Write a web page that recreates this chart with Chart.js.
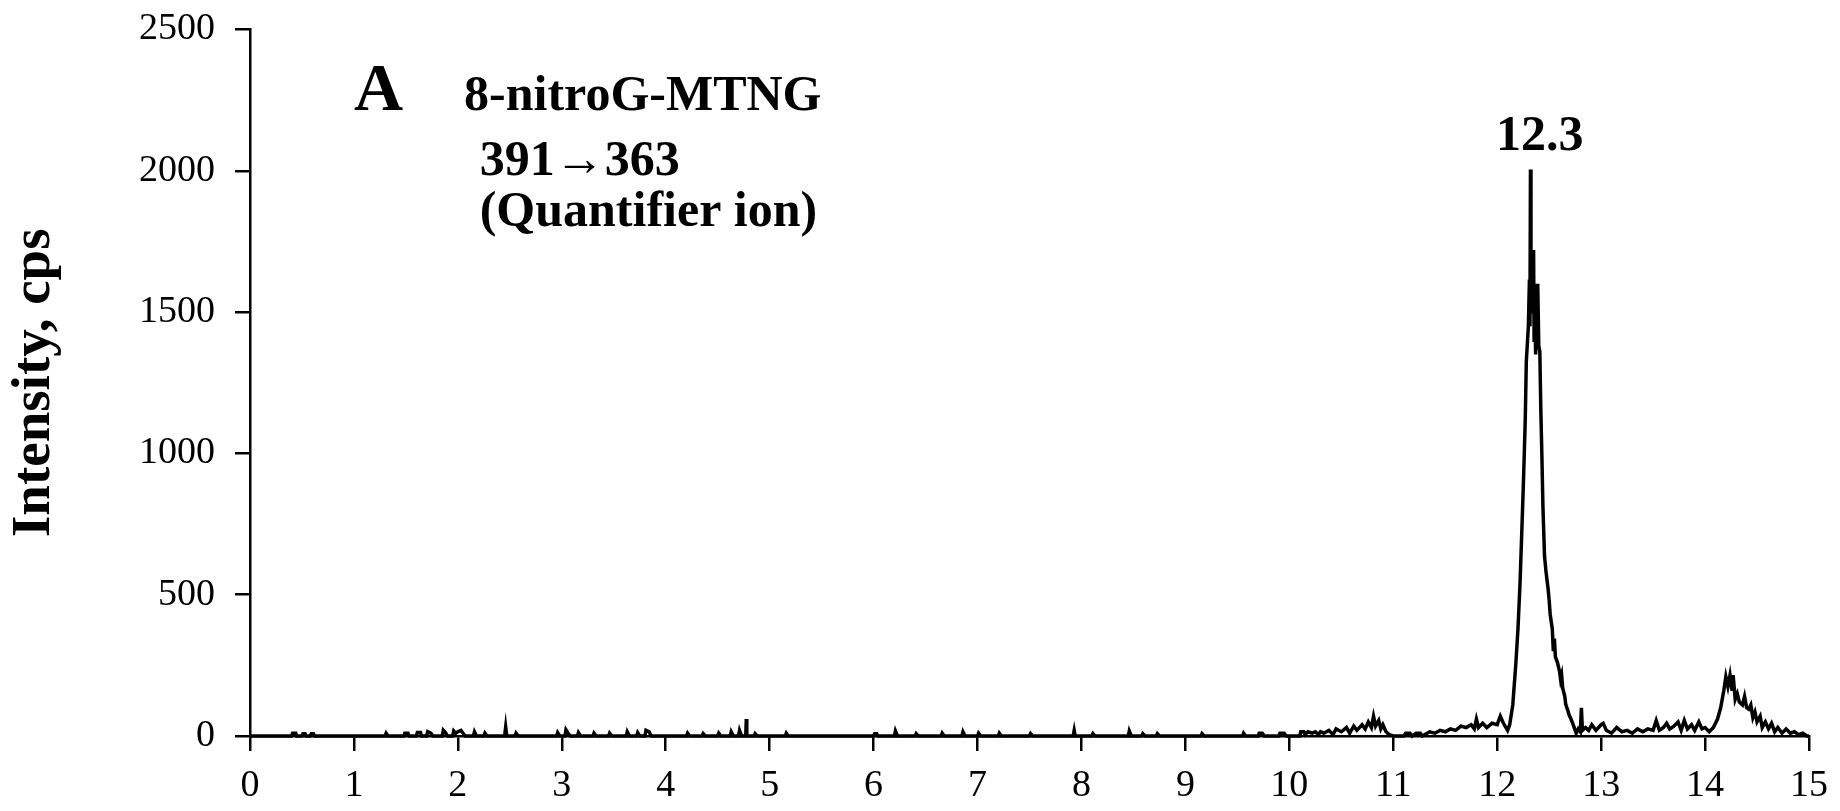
<!DOCTYPE html>
<html>
<head>
<meta charset="utf-8">
<script src="https://cdn.jsdelivr.net/npm/chart.js@4/dist/chart.umd.min.js"></script>
<style>
  body { margin: 0; background: #fff; }
  #wrap { width: 1840px; height: 811px; }
</style>
</head>
<body>
<div id="wrap"><canvas id="chart_xic" width="1840" height="811"></canvas></div>
<script>
// retention time (min) and intensity (cps)
const rt = [
  0.00, 0.40, 0.41, 0.44, 0.45, 0.50, 0.51, 0.53, 0.54, 0.58, 0.59, 0.61, 0.62,
  1.30, 1.31, 1.33, 1.48, 1.49, 1.52, 1.53, 1.60, 1.61, 1.64, 1.65, 1.70, 1.71, 1.74, 1.76,
  1.85, 1.86, 1.88, 1.90, 1.95, 1.96, 1.98, 2.00, 2.03, 2.05, 2.07, 2.15, 2.16, 2.18,
  2.25, 2.26, 2.28, 2.45, 2.46, 2.47, 2.55, 2.56, 2.58, 2.95, 2.96, 2.98, 3.03, 3.04, 3.06, 3.08,
  3.15, 3.16, 3.18, 3.30, 3.31, 3.33, 3.45, 3.46, 3.48, 3.62, 3.63, 3.65, 3.72, 3.73, 3.75,
  3.80, 3.81, 3.84, 3.86, 4.20, 4.21, 4.23, 4.35, 4.36, 4.38, 4.50, 4.51, 4.53, 4.62, 4.63, 4.65,
  4.70, 4.71, 4.73, 4.77, 4.775, 4.78, 4.85, 4.86, 4.88, 5.15, 5.16, 5.18,
  6.00, 6.01, 6.03, 6.04, 6.20, 6.21, 6.23, 6.40, 6.41, 6.43, 6.65, 6.66, 6.68, 6.85, 6.86, 6.88,
  7.00, 7.01, 7.03, 7.20, 7.21, 7.23, 7.50, 7.51, 7.53, 7.92, 7.93, 7.94, 8.10, 8.11, 8.13,
  8.45, 8.46, 8.48, 8.58, 8.59, 8.61, 8.72, 8.73, 8.75, 9.15, 9.16, 9.18, 9.55, 9.56, 9.58,
  9.70, 9.71, 9.74, 9.76, 9.90, 9.91, 9.95, 9.97,
  10.10, 10.11, 10.14, 10.15, 10.18, 10.22, 10.25, 10.28, 10.30, 10.33, 10.38, 10.42, 10.45,
  10.50, 10.55, 10.58, 10.62, 10.65, 10.70, 10.73, 10.76, 10.79, 10.81, 10.83, 10.86, 10.88,
  10.90, 10.93, 10.96, 11.00, 11.10, 11.12, 11.16, 11.18, 11.22, 11.26, 11.28, 11.35, 11.40,
  11.45, 11.50, 11.55, 11.60, 11.65, 11.70, 11.75, 11.78, 11.80, 11.82, 11.86, 11.90, 11.95,
  12.00, 12.03, 12.06, 12.10, 12.12, 12.15, 12.18, 12.20, 12.22, 12.24, 12.25, 12.26, 12.27,
  12.28, 12.30, 12.31, 12.315, 12.32, 12.325, 12.33, 12.34, 12.345, 12.35, 12.355, 12.36, 12.37,
  12.375, 12.38, 12.39, 12.40, 12.41, 12.42, 12.43, 12.44, 12.455, 12.47, 12.49, 12.50, 12.51,
  12.52, 12.53, 12.54, 12.55, 12.56, 12.58, 12.60, 12.61, 12.62, 12.63, 12.65, 12.66, 12.68,
  12.69, 12.71, 12.73, 12.76, 12.78, 12.80, 12.81, 12.82, 12.85, 12.88, 12.91, 12.95, 13.00,
  13.02, 13.05, 13.10, 13.15, 13.20, 13.25, 13.30, 13.35,
  13.40, 13.45, 13.50, 13.53, 13.56, 13.60, 13.63, 13.66, 13.70, 13.74, 13.77, 13.80, 13.83,
  13.87, 13.90, 13.94, 13.97, 14.00, 14.04, 14.08, 14.12, 14.15, 14.18, 14.20, 14.22, 14.24,
  14.26, 14.27, 14.29, 14.31, 14.33, 14.36, 14.38, 14.40, 14.42, 14.44, 14.46, 14.48, 14.50,
  14.53, 14.55, 14.58, 14.61, 14.64, 14.67, 14.70, 14.74, 14.78, 14.82, 14.86, 14.90, 14.94,
  14.98, 15.00
];
const cps = [
  0, 0, 10, 10, 0, 0, 8, 8, 0, 0, 8, 8, 0,
  0, 10, 0, 0, 10, 10, 0, 0, 12, 12, 0, 0, 15, 10, 0,
  0, 20, 12, 0, 0, 18, 10, 15, 20, 10, 0, 0, 15, 0,
  0, 10, 0, 0, 32, 0, 0, 10, 0, 0, 12, 0, 0, 22, 10, 0,
  0, 12, 0, 0, 10, 0, 0, 10, 0, 0, 15, 0, 0, 12, 0,
  0, 20, 15, 0, 0, 10, 0, 0, 8, 0, 0, 10, 0, 0, 15, 0,
  0, 20, 0, 0, 60, 0, 0, 8, 0, 0, 10, 0,
  0, 8, 8, 0, 0, 18, 0, 0, 8, 0, 0, 10, 0, 0, 15, 0,
  0, 10, 0, 0, 10, 0, 0, 8, 0, 0, 20, 0, 0, 8, 0,
  0, 18, 0, 0, 8, 0, 0, 8, 0, 0, 8, 0, 0, 10, 0,
  0, 10, 10, 0, 0, 10, 10, 0,
  0, 15, 15, 5, 15, 10, 15, 5, 15, 10, 20, 5, 25,
  15, 30, 10, 35, 20, 40, 25, 50, 30, 70, 35, 55, 25,
  40, 15, 5, 0, 0, 10, 10, 0, 10, 10, 0, 15, 10,
  20, 15, 25, 20, 35, 30, 40, 25, 60, 30, 45, 30, 45,
  40, 70, 45, 20, 40, 110, 260, 380, 544, 760, 870, 990, 1120,
  1325, 1450, 1615, 1450, 2005, 1700, 1550, 1650, 1500, 1720, 1400, 1560, 1350,
  1600, 1420, 1600, 1380, 1360, 1150, 990, 813, 638, 580, 520, 480, 430,
  404, 380, 300, 345, 280, 260, 228, 200, 215, 170, 140, 111, 90,
  76, 60, 41, 10, 25, 15, 100, 20, 30, 20, 40, 20, 40,
  45, 20, 10, 30, 15, 20, 10, 25,
  15, 25, 20, 55, 20, 30, 45, 25, 35, 50, 20, 55, 25,
  40, 20, 50, 25, 30, 15, 30, 60, 100, 160, 210, 175, 215,
  160, 215, 130, 150, 120, 110, 140, 100, 95, 110, 65, 85, 50,
  70, 30, 50, 25, 45, 15, 30, 10, 25, 10, 15, 5, 10,
  0, 0
];

const xTickValues = [0, 1, 2, 3, 4, 5, 6, 7, 8, 9, 10, 11, 12, 13, 14, 15];
const yTickValues = [0, 500, 1000, 1500, 2000, 2500];

const panelLetter = 'A';
const compoundLines = ['8-nitroG-MTNG', '391\u2192363', '(Quantifier ion)'];
const peakLabel = '12.3';

const serif = "'Liberation Serif', 'Times New Roman', serif";

const points = rt.map((t, i) => ({ x: t, y: cps[i] }));

const textPlugin = {
  id: 'xicText',
  afterDatasetsDraw(chart) {
    const c = chart.ctx;
    const xs = chart.scales.x, ys = chart.scales.y;
    c.save();
    c.fillStyle = '#000';
    c.textBaseline = 'alphabetic';
    c.textAlign = 'left';
    c.font = 'bold 68px ' + serif;
    c.fillText(panelLetter, xs.getPixelForValue(1.00), ys.getPixelForValue(2215));
    c.font = 'bold 50px ' + serif;
    c.fillText(compoundLines[0], xs.getPixelForValue(2.06), ys.getPixelForValue(2215));
    c.fillText(compoundLines[1], xs.getPixelForValue(2.21), ys.getPixelForValue(1985));
    c.fillText(compoundLines[2], xs.getPixelForValue(2.21), ys.getPixelForValue(1805));
    c.textAlign = 'center';
    c.font = 'bold 50px ' + serif;
    c.fillText(peakLabel, xs.getPixelForValue(12.41), ys.getPixelForValue(2075));
    c.restore();
  }
};

const axisGrid = {
  drawOnChartArea: false,
  drawTicks: true,
  tickLength: 15,
  color: '#000',
  lineWidth: 2.5
};

const config = {
  type: 'line',
  data: {
    datasets: [{
      data: points,
      borderColor: '#000',
      borderWidth: 3.5,
      pointRadius: 0,
      tension: 0,
      fill: false,
      clip: 10
    }]
  },
  options: {
    responsive: false,
    animation: false,
    layout: { padding: { left: 0, right: 25, top: 22, bottom: 0 } },
    plugins: { legend: { display: false }, tooltip: { enabled: false } },
    scales: {
      x: {
        type: 'linear',
        min: 0,
        max: 15,
        grid: axisGrid,
        border: { color: '#000', width: 2.5 },
        afterBuildTicks: (s) => { s.ticks = xTickValues.map(v => ({ value: v })); },
        afterFit: (s) => { s.height = 75; },
        ticks: {
          color: '#000',
          padding: 12,
          maxRotation: 0,
          autoSkip: false,
          font: { family: serif, size: 38 },
          callback: (v) => String(v)
        }
      },
      y: {
        min: 0,
        max: 2500,
        grid: axisGrid,
        border: { color: '#000', width: 2.5 },
        afterBuildTicks: (s) => { s.ticks = yTickValues.map(v => ({ value: v })); },
        afterFit: (s) => { s.width = 250; },
        title: {
          display: true,
          text: 'Intensity, cps',
          color: '#000',
          padding: { top: 2, bottom: 0 },
          font: { family: serif, size: 55, weight: 'bold' }
        },
        ticks: {
          color: '#000',
          padding: 20,
          font: { family: serif, size: 38, lineHeight: 0.5 },
          callback: (v) => String(v)
        }
      }
    }
  },
  plugins: [textPlugin]
};

const chartXic = new Chart(document.getElementById('chart_xic'), config);
</script>
</body>
</html>
